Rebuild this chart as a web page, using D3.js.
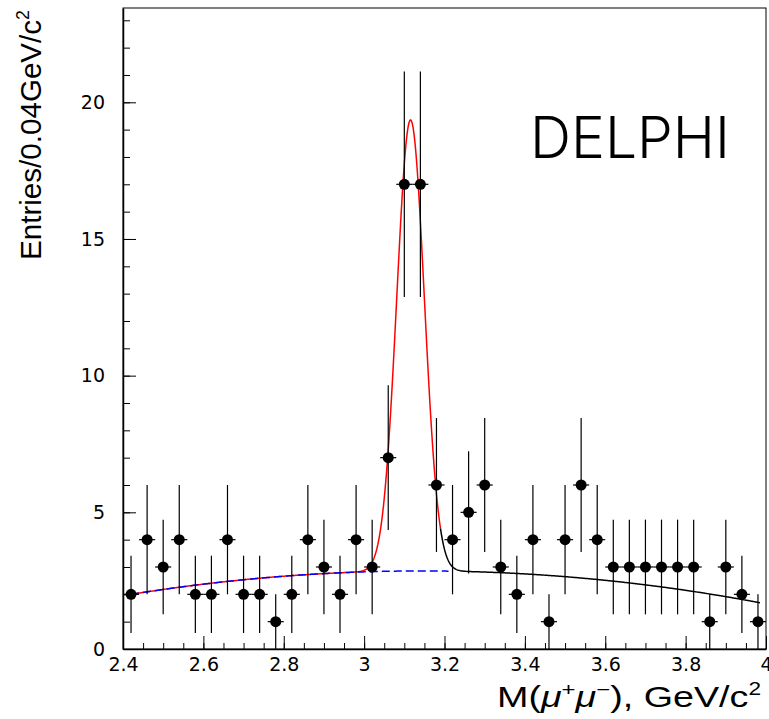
<!DOCTYPE html>
<html>
<head>
<meta charset="utf-8">
<script src="https://cdn.jsdelivr.net/npm/d3@7"></script>
<style>
  body { margin: 0; background: #fff; }
  svg { display: block; }
  .axis text { font-family: "DejaVu Sans", "Liberation Sans", sans-serif; font-size: 19px; fill: #000; }
  .axis line, .axis path { stroke: #000; }
</style>
</head>
<body>
<svg id="chart" width="769" height="719"></svg>
<script>
// bin centres (width 0.04 GeV/c^2) and entries per bin
var binCenters = [2.42, 2.46, 2.50, 2.54, 2.58, 2.62, 2.66, 2.70, 2.74, 2.78,
                  2.82, 2.86, 2.90, 2.94, 2.98, 3.02, 3.06, 3.10, 3.14, 3.18,
                  3.22, 3.26, 3.30, 3.34, 3.38, 3.42, 3.46, 3.50, 3.54, 3.58,
                  3.62, 3.66, 3.70, 3.74, 3.78, 3.82, 3.86, 3.90, 3.94, 3.98];
var entries = [2, 4, 3, 4, 2, 2, 4, 2, 2, 1,
               2, 4, 3, 2, 4, 3, 7, 17, 17, 6,
               4, 5, 6, 3, 2, 4, 1, 4, 6, 4,
               3, 3, 3, 3, 3, 3, 1, 3, 2, 1];
var binHalfWidth = 0.02;

// fit: gaussian peak + quadratic background (about u = m - 3.2)
var bkgParams = [2.85, -0.1875, -1.64];
var peakParams = [16.5, 3.1155, 0.0343];   // amplitude, mean, sigma
var fitRange = [2.42, 3.19];                 // red part
var extRange = [3.19, 3.985];                // black continuation
var bkgRange = [2.42, 3.21];                 // blue dashed

var xMajorTicks = [2.4, 2.6, 2.8, 3, 3.2, 3.4, 3.6, 3.8, 4];
var yMajorTicks = [0, 5, 10, 15, 20];

var margin = {left: 123, top: 8, right: 3, bottom: 70};
var W = 769, H = 719;

var svg = d3.select('#chart');

var xScale = d3.scaleLinear().domain([2.4, 4.0]).range([margin.left, W - margin.right]);
var yScale = d3.scaleLinear().domain([0, 23.45]).range([H - margin.bottom, margin.top]);

function bkg(m) {
    var u = m - 3.2;
    return bkgParams[0] + bkgParams[1] * u + bkgParams[2] * u * u;
}

function total(m) {
    var z = (m - peakParams[1]) / peakParams[2];
    return bkg(m) + peakParams[0] * Math.exp(-0.5 * z * z);
}

// frame
svg.append('rect')
    .attr('x', xScale(2.4)).attr('y', yScale(23.45))
    .attr('width', xScale(4.0) - xScale(2.4))
    .attr('height', yScale(0) - yScale(23.45))
    .attr('fill', 'none').attr('stroke', '#000').attr('stroke-width', 1);

// x axis: minor ticks then major ticks with labels
var xAxisG = svg.append('g').attr('class', 'axis')
    .attr('transform', 'translate(0,' + yScale(0) + ')');
xAxisG.append('g')
    .call(d3.axisBottom(xScale).tickValues(d3.range(2.4, 4.001, 0.05)).tickSize(-6).tickSizeOuter(0).tickFormat(''))
    .select('.domain').remove();
xAxisG.append('g')
    .call(d3.axisBottom(xScale).tickValues(xMajorTicks).tickSize(-13).tickSizeOuter(0).tickPadding(9)
        .tickFormat(function (d) { return String(d); }))
    .select('.domain').attr('stroke-width', 1.5);

// y axis
var yAxisG = svg.append('g').attr('class', 'axis')
    .attr('transform', 'translate(' + xScale(2.4) + ',0)');
yAxisG.append('g')
    .call(d3.axisLeft(yScale).tickValues(d3.range(0, 24, 1)).tickSize(-7).tickSizeOuter(0).tickFormat(''))
    .select('.domain').remove();
yAxisG.append('g')
    .call(d3.axisLeft(yScale).tickValues(yMajorTicks).tickSize(-13).tickSizeOuter(0).tickPadding(18))
    .select('.domain').attr('stroke-width', 1.5);

// fit curves
var line = d3.line()
    .x(function (d) { return xScale(d[0]); })
    .y(function (d) { return yScale(d[1]); });

function sample(range, f) {
    var pts = d3.range(range[0], range[1], 0.002).map(function (m) { return [m, f(m)]; });
    pts.push([range[1], f(range[1])]);
    return pts;
}

svg.append('path')
    .attr('d', line(sample(fitRange, total)))
    .attr('fill', 'none').attr('stroke', '#ff0000').attr('stroke-width', 1.5);
svg.append('path')
    .attr('d', line(sample(extRange, total)))
    .attr('fill', 'none').attr('stroke', '#000').attr('stroke-width', 1.5);
svg.append('path')
    .attr('d', line(sample(bkgRange, bkg)))
    .attr('fill', 'none').attr('stroke', '#0000ff').attr('stroke-width', 1.5)
    .attr('stroke-dasharray', '8,4');

// data points with poisson errors
var data = binCenters.map(function (c, i) {
    return {x: c, n: entries[i], err: Math.sqrt(entries[i])};
});

var pointsG = svg.append('g');
var pts = pointsG.selectAll('g.pt').data(data).enter().append('g').attr('class', 'pt');
pts.append('line')
    .attr('x1', function (d) { return xScale(d.x); })
    .attr('x2', function (d) { return xScale(d.x); })
    .attr('y1', function (d) { return yScale(Math.max(0, d.n - d.err)); })
    .attr('y2', function (d) { return yScale(d.n + d.err); })
    .attr('stroke', '#000').attr('stroke-width', 1.2);
pts.append('line')
    .attr('x1', function (d) { return xScale(d.x - binHalfWidth); })
    .attr('x2', function (d) { return xScale(d.x + binHalfWidth); })
    .attr('y1', function (d) { return yScale(d.n); })
    .attr('y2', function (d) { return yScale(d.n); })
    .attr('stroke', '#000').attr('stroke-width', 1.2);
pts.append('circle')
    .attr('cx', function (d) { return xScale(d.x); })
    .attr('cy', function (d) { return yScale(d.n); })
    .attr('r', 5.5)
    .attr('fill', '#000');

// titles
var yTitle = svg.append('text')
    .attr('transform', 'translate(41,' + (margin.top + 2) + ') rotate(-90)')
    .attr('text-anchor', 'end')
    .attr('textLength', 250)
    .attr('lengthAdjust', 'spacingAndGlyphs')
    .style('font-family', '"Liberation Sans", Arial, sans-serif')
    .style('font-size', '30px');
yTitle.append('tspan').text('Entries/0.04GeV/c');
yTitle.append('tspan').attr('dy', -12).style('font-size', '18px').text('2');

var xTitle = svg.append('text')
    .attr('x', 497).attr('y', 707)
    .attr('textLength', 264)
    .attr('lengthAdjust', 'spacingAndGlyphs')
    .style('font-family', '"Liberation Sans", Arial, sans-serif')
    .style('font-size', '30px');
xTitle.append('tspan').text('M(');
xTitle.append('tspan').style('font-style', 'italic').text('\u03bc');
xTitle.append('tspan').attr('dy', -11).style('font-size', '19px').text('+');
xTitle.append('tspan').attr('dy', 11).style('font-style', 'italic').text('\u03bc');
xTitle.append('tspan').attr('dy', -11).style('font-size', '19px').text('\u2212');
xTitle.append('tspan').attr('dy', 11).text('), GeV/c');
xTitle.append('tspan').attr('dy', -12).style('font-size', '18px').text('2');

svg.append('text')
    .attr('x', 530).attr('y', 158)
    .style('font-family', 'Inter, "Liberation Sans", sans-serif')
    .style('font-weight', 300)
    .style('font-size', '58px')
    .attr('textLength', 200)
    .attr('lengthAdjust', 'spacingAndGlyphs')
    .text('DELPHI');
</script>
</body>
</html>
